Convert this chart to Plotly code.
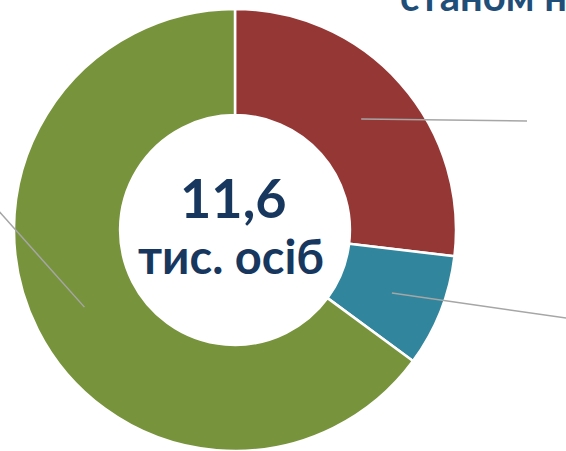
import math
import plotly.graph_objects as go

# ---- data ----
labels = ["Категорія 1", "Категорія 2", "Категорія 3"]
shares = [26.9, 8.2, 64.9]
colors = ["#953735", "#31859C", "#77933C"]
total_value = "11,6"
total_unit = "тис. осіб"
title_text = "станом на 01.01.2024"

# ---- layout constants (screen pixels; body margin removed below) ----
W, H = 566, 451
PAGE = 0
CX, CY, R = 235, 231, 222
hole = 0.52
label_ends = [(527, 121), (580, 320), (-12, 199)]


def px(x, y):
    return (x - PAGE) / W, 1 - (y - PAGE) / H


x0, y1 = px(CX - R, CY - R)
x1, y0 = px(CX + R, CY + R)
dom_x = [max(0.0, x0), min(1.0, x1)]
dom_y = [max(0.0, y0), min(1.0, y1)]

fig = go.Figure()
fig.add_trace(go.Pie(
    labels=labels, values=shares, sort=False, direction="clockwise", rotation=0,
    hole=hole, marker=dict(colors=colors, line=dict(color="white", width=2.5)),
    textinfo="none", hoverinfo="label+percent", showlegend=False,
    domain=dict(x=dom_x, y=dom_y),
))

r_mid = (1 + hole) / 2 * R
tot = sum(shares)
acc = 0
shapes = []
for v, (ex, ey) in zip(shares, label_ends):
    mid = (acc + v / 2) / tot * 2 * math.pi
    acc += v
    sx = CX + r_mid * math.sin(mid)
    sy = CY - r_mid * math.cos(mid)
    a0, b0 = px(sx, sy)
    a1, b1 = px(ex, ey)
    shapes.append(dict(type="line", xref="paper", yref="paper",
                       x0=a0, y0=b0, x1=a1, y1=b1,
                       line=dict(color="#A6A6A6", width=1.5)))

tx, ty = px(CX - 2, 198)
ux, uy = px(CX - 4, 256)
hx, hy = px(398, 22)
annotations = [
    dict(text=f"<b>{total_value}</b>", x=tx, y=ty, xref="paper", yref="paper",
         showarrow=False, font=dict(family="Lato", size=54, color="#17375E"),
         xanchor="center", yanchor="middle"),
    dict(text=f"<b>{total_unit}</b>", x=ux, y=uy, xref="paper", yref="paper",
         showarrow=False, font=dict(family="Lato", size=47, color="#17375E"),
         xanchor="center", yanchor="middle"),
    dict(text=f"<b>{title_text}</b>", x=hx, y=hy, xref="paper", yref="paper",
         showarrow=False, font=dict(family="Lato", size=40, color="#1F4E79"),
         xanchor="left", yanchor="bottom"),
]

fig.update_layout(
    width=W, height=H, margin=dict(l=0, r=0, t=0, b=0),
    paper_bgcolor="white", plot_bgcolor="white",
    shapes=shapes, annotations=annotations,
)
fig.write_html("out.html", config={"displayModeBar": False},
               post_script="document.body.style.margin='0';")
